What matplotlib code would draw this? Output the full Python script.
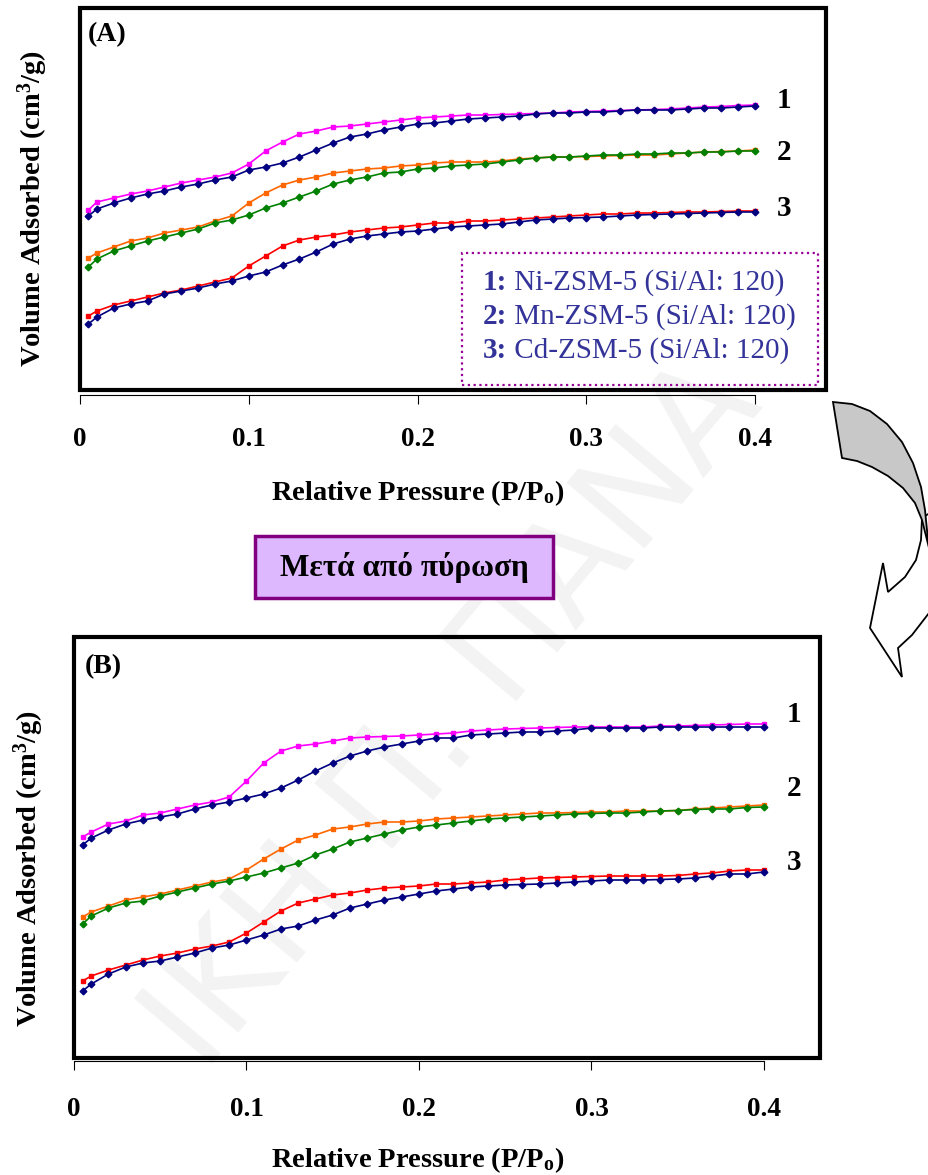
import matplotlib.pyplot as plt
from matplotlib.patches import Rectangle, Polygon

plt.rcParams['font.family'] = ['Liberation Serif', 'DejaVu Serif']
plt.rcParams['mathtext.fontset'] = 'custom'
plt.rcParams['mathtext.rm'] = 'Liberation Serif:bold'
plt.rcParams['mathtext.it'] = 'Liberation Serif:bold'
plt.rcParams['mathtext.bf'] = 'Liberation Serif:bold'

# relative pressure P/Po (same grid for all curves)
p_rel = [0.005, 0.01, 0.02, 0.03, 0.04, 0.05, 0.06, 0.07, 0.08, 0.09,
         0.10, 0.11, 0.12, 0.13, 0.14, 0.15, 0.16, 0.17, 0.18, 0.19,
         0.20, 0.21, 0.22, 0.23, 0.24, 0.25, 0.26, 0.27, 0.28, 0.29,
         0.30, 0.31, 0.32, 0.33, 0.34, 0.35, 0.36, 0.37, 0.38, 0.39, 0.40]

# (A) before calcination - volume adsorbed, arbitrary units (curves offset)
a1_pink = [180, 188, 192, 196, 199, 203, 207, 210, 213, 217, 226, 239, 248, 256, 259, 263, 264, 266, 268, 270,
           272, 273, 274, 275, 275, 275.5, 276, 276.5, 277, 278, 278.5, 279, 279.5, 280, 280.5, 281, 282, 283, 283.5, 284.5, 285]
a1_navy = [174, 181, 187, 192, 196, 199, 203, 206, 210, 213, 220, 223, 227, 233, 240, 247, 253, 256, 260, 263,
           266, 267, 269, 271, 272, 273, 274, 276, 277, 277, 278, 278, 279, 280, 280, 280, 281, 282, 282, 283, 284]
a2_orange = [132, 137, 143, 149, 152, 157, 160, 163, 169, 174, 187, 197, 205, 210, 213, 217, 219, 221, 222, 224,
             225, 227, 228, 228, 228, 229, 231, 232, 233, 233, 233.5, 234, 234.5, 235, 235, 236, 237, 238, 238.5, 239, 240]
a2_green = [123, 131, 139, 144, 149, 153, 157, 161, 167, 170, 175, 182, 187, 193, 199, 206, 210, 213, 217, 218,
            221, 222, 224, 225, 226, 228, 230, 232, 233, 233, 234, 235, 235, 236, 236, 237, 237, 238, 238, 239, 239]
a3_red = [74, 79, 85, 89, 93, 97, 100, 104, 108, 112, 124, 134, 144, 150, 153, 155, 158, 160, 162, 163,
          165, 167, 167, 169, 169, 170, 171, 172, 173, 174, 175, 176, 176, 177, 177, 177.5, 178, 178, 178.5, 179, 179]
a3_navy = [66, 73, 82, 86, 89, 96, 99, 102, 106, 109, 114, 118, 125, 131, 138, 146, 151, 154, 156, 158,
           159, 161, 163, 164, 165, 166, 168, 170, 171, 172, 172.5, 173, 174, 175, 175.5, 176, 176.5, 177, 177.5, 178, 178]

# (B) after calcination
b1_pink = [221, 226, 234, 237, 243, 245, 249, 253, 256, 261, 277, 295, 307, 312, 314, 317, 320, 321, 321.5, 322,
           323, 324, 325, 327, 328, 329, 329.5, 330, 330.5, 331, 331, 331, 331, 331, 332, 332, 332.5, 333, 333.5, 334, 334]
b1_navy = [213, 220, 228, 234, 238, 241, 244, 249, 253, 256, 260, 264, 270, 278, 287, 295, 302, 307, 311, 314,
           317, 320, 320, 323, 324, 325, 326, 326, 327, 328, 330, 330, 330, 330, 331, 331, 331, 331, 331, 331, 331]
b2_orange = [141, 146, 152, 158, 161, 164, 168, 172, 176, 179, 188, 199, 209, 218, 223, 229, 231, 234, 236, 236,
             237, 239, 240, 241, 242, 243, 244, 245, 245, 245.5, 246, 246, 247, 247, 247, 247.5, 249, 250, 251, 252, 253]
b2_green = [134, 142, 150, 155, 157, 162, 166, 170, 174, 177, 181, 185, 190, 195, 203, 209, 216, 220, 224, 228,
            231, 233, 235, 237, 239, 240, 241, 242, 243, 244, 244.5, 245, 245, 246, 247, 247.5, 248.5, 249, 249, 250.5, 251]
b3_red = [77, 82, 88, 93, 98, 102, 105, 109, 112, 116, 125, 136, 147, 155, 159, 163, 165, 168, 170, 171,
          172, 174, 174, 175, 176, 178, 179, 180, 180.5, 181, 181.5, 182, 182, 182, 182, 182.5, 184, 185, 187, 188, 188]
b3_navy = [67, 74, 84, 91, 95, 97, 101, 105, 110, 113, 118, 123, 129, 132, 138, 143, 150, 154, 158, 161,
           164, 167, 169, 171, 172, 173, 173.5, 174, 175, 176, 177, 178, 178, 178, 178.5, 179, 180, 182, 184, 184, 186]

tick_vals = [0, 0.1, 0.2, 0.3, 0.4]
tick_text = ['0', '0.1', '0.2', '0.3', '0.4']
legend_nums = ['1:', '2:', '3:']
legend_names = [' Ni-ZSM-5 (Si/Al: 120)', ' Mn-ZSM-5 (Si/Al: 120)', ' Cd-ZSM-5 (Si/Al: 120)']

W, H = 929, 1175
fig = plt.figure(figsize=(W / 100, H / 100), dpi=100)


def fx(x):
    return x / W


def fy(y):
    return 1 - y / H


# faint watermark behind everything
fig.text(fx(455), fy(715), 'ΙΚΗ Π. ΠΑΝΑ', rotation=50, ha='center', va='center',
         fontsize=100, color='#f3f3f3', family='DejaVu Sans', zorder=-5)


def panel(left, top, right, bottom, xmax, curves, num_y, outward, pad):
    ax = fig.add_axes([fx(left), fy(bottom), (right - left) / W, (bottom - top) / H])
    ax.set_facecolor('none')
    ax.set_xlim(0, xmax)
    ax.set_ylim(0, bottom - top)
    for vals, col, mk, ms in curves:
        ax.plot(p_rel, vals, color=col, lw=1.2, marker=mk, ms=ms, mfc=col, mec=col)
    for side in ['top', 'left', 'right']:
        ax.spines[side].set_visible(False)
    ax.add_patch(Rectangle((0, 0), 1, 1, transform=ax.transAxes, fill=False,
                           lw=3, ec='black', clip_on=False, zorder=5))
    ax.spines['bottom'].set_position(('outward', outward))
    ax.spines['bottom'].set_bounds(0, 0.4)
    ax.spines['bottom'].set_linewidth(0.8)
    ax.set_yticks([])
    ax.set_xticks(tick_vals)
    ax.set_xticklabels(tick_text, fontsize=19.5, fontweight='bold')
    ax.tick_params(axis='x', direction='out', length=6.5, width=0.8, pad=pad)
    for i, v in enumerate(num_y):
        ax.text(0.4 + 0.013, v, str(i + 1), fontsize=21, fontweight='bold', va='center', ha='left')
    return ax


ax_a = panel(80, 8, 826, 390, 0.442,
             [(a1_pink, '#FF00FF', 's', 3.0), (a1_navy, '#000080', 'D', 3.4),
              (a2_orange, '#FF6600', 's', 3.0), (a2_green, '#008000', 'D', 3.4),
              (a3_red, '#FF0000', 's', 3.0), (a3_navy, '#000080', 'D', 3.4)],
             [290, 237, 182], 3.5, 17)

ax_b = panel(74, 637, 820, 1058, 0.4325,
             [(b1_pink, '#FF00FF', 's', 3.0), (b1_navy, '#000080', 'D', 3.4),
              (b2_orange, '#FF6600', 's', 3.0), (b2_green, '#008000', 'D', 3.4),
              (b3_red, '#FF0000', 's', 3.0), (b3_navy, '#000080', 'D', 3.4)],
             [343, 270, 196], 2.5, 19)

# panel letters
fig.text(fx(88), fy(35), '(A)', fontsize=20, fontweight='bold', va='center', ha='left')
fig.text(fx(85), fy(667), '(B)', fontsize=20, fontweight='bold', va='center', ha='left')

# axis titles
ylab = 'Volume Adsorbed (cm$^{3}$/g)'
xlab = 'Relative Pressure (P/P$_{\\mathrm{o}}$)'
fig.text(fx(33), fy(208), ylab, rotation=90, fontsize=20.5, fontweight='bold', ha='center', va='center')
fig.text(fx(29), fy(868), ylab, rotation=90, fontsize=20.5, fontweight='bold', ha='center', va='center')
fig.text(fx(418), fy(493), xlab, fontsize=20.5, fontweight='bold', ha='center', va='center')
fig.text(fx(418), fy(1160), xlab, fontsize=20.5, fontweight='bold', ha='center', va='center')

# legend box in (A)
fig.add_artist(Rectangle((fx(462), fy(385)), (818 - 462) / W, (385 - 253) / H, transform=fig.transFigure,
                         fill=False, ls=(0, (1, 1.6)), lw=1.6, ec='#990099'))
for num, name, yy in zip(legend_nums, legend_names, [282, 316, 350]):
    t1 = fig.text(fx(483), fy(yy), num, fontsize=21, fontweight='bold', color='#333399', va='center', ha='left')
    fig.add_artist(plt.Annotation(name, xy=(1, 0), xycoords=t1, va='bottom', ha='left',
                                  fontsize=21, color='#333399'))

# "after calcination" box
fig.add_artist(Rectangle((fx(255), fy(598)), (553 - 255) / W, (598 - 536) / H, transform=fig.transFigure,
                         fc='#DDB8FF', ec='#800080', lw=2.5))
fig.text(fx(404), fy(568), 'Μετά από πύρωση', fontsize=22.5, fontweight='bold', ha='center', va='center')

# curved arrow on the right side
white_pts = [(922, 518), (921, 540), (916, 560), (905, 577), (888, 592), (883, 563), (870, 628),
             (902, 677), (898, 648), (912, 635), (929, 613), (945, 585), (955, 540), (950, 500)]
gray_pts = [(833, 402), (852, 404), (870, 411), (887, 424), (902, 442), (913, 463), (921, 487),
            (925, 510), (927, 530), (929, 548), (922, 520), (915, 503), (903, 488), (888, 476),
            (872, 467), (857, 461), (842, 458)]
fig.add_artist(Polygon([(fx(x), fy(y)) for x, y in white_pts], closed=True, transform=fig.transFigure,
                       fc='white', ec='black', lw=1.3))
fig.add_artist(Polygon([(fx(x), fy(y)) for x, y in gray_pts], closed=True, transform=fig.transFigure,
                       fc='#C8C8C8', ec='black', lw=1.3))

fig.savefig('out.png', dpi=100)
